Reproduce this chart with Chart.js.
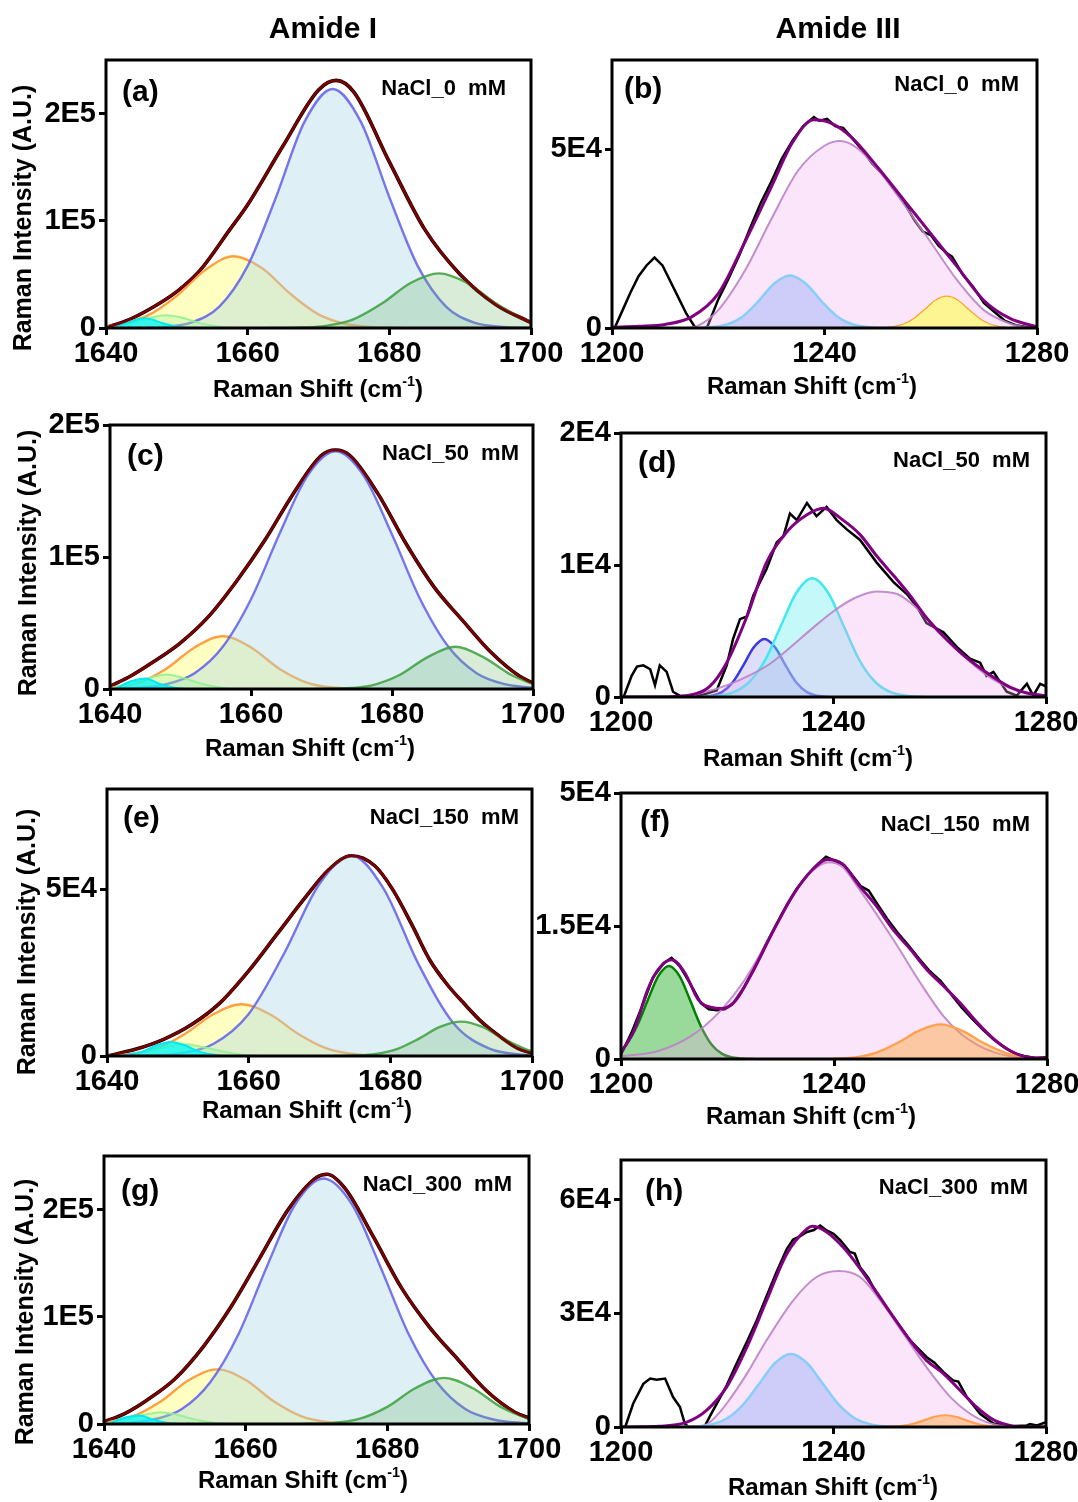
<!DOCTYPE html>
<html>
<head>
<meta charset="utf-8">
<script src="https://cdn.jsdelivr.net/npm/chart.js@4.4.1/dist/chart.umd.min.js"></script>
<style>
  body { margin: 0; background: #fff; width: 1078px; height: 1502px; position: relative; overflow: hidden;
         font-family: "Liberation Sans", Arial, sans-serif; font-weight: bold; color: #000; }
  .box { position: absolute; }
  .t { position: absolute; white-space: nowrap; line-height: 1; z-index: 5; }
  .c { transform: translate(-50%, -50%); }
  .r { transform: translate(-100%, -50%); }
  .l { transform: translate(0, -50%); }
  .v { transform: translate(-50%, -50%) rotate(-90deg); }
  sup { font-size: 60%; line-height: 0; vertical-align: 0.75em; }
</style>
</head>
<body>
<script>
// ---- axis ticks ----
const amideITicks = [1640, 1660, 1680, 1700];
const amideIIITicks = [1200, 1240, 1280];

const yTicksA = [0, 1, 2], yLabelsA = ['0', '1E5', '2E5'];
const yTicksB = [0, 5], yLabelsB = ['0', '5E4'];
const yTicksC = [0, 1, 2], yLabelsC = ['0', '1E5', '2E5'];
const yTicksD = [0, 1, 2], yLabelsD = ['0', '1E4', '2E4'];
const yTicksE = [0, 5], yLabelsE = ['0', '5E4'];
const yTicksF = [0, 1.5, 3], yLabelsF = ['0', '1.5E4', '5E4'];
const yTicksG = [0, 1, 2], yLabelsG = ['0', '1E5', '2E5'];
const yTicksH = [0, 3, 6], yLabelsH = ['0', '3E4', '6E4'];

// ---- (a) NaCl 0 mM, amide I (units of 1E5) ----
const aFit = [[1640,.005],[1643,.07],[1646,.17],[1650,.34],[1653.3,.54],[1657.5,.92],[1660,1.15],[1665,1.7],[1670,2.22],[1672.5,2.31],[1675,2.2],[1680,1.55],[1685,.92],[1690,.5],[1695,.22],[1700,.05]];
const aBlue = [[1640,0],[1644,0],[1648,.01],[1652,.05],[1656,.2],[1660,.58],[1664,1.22],[1668,1.92],[1672,2.23],[1676,1.92],[1680,1.22],[1684,.58],[1688,.2],[1692,.05],[1696,.01],[1700,0]];
const aOrange = [[1640,.016],[1642,.035],[1646,.12],[1650,.3],[1654,.54],[1658,.67],[1662,.56],[1666,.32],[1670,.127],[1674,.035],[1678,.007],[1682,0]];
const aGreen = [[1663,0],[1667,.003],[1671,.02],[1675,.083],[1679,.23],[1683,.42],[1687,.51],[1691,.42],[1695,.23],[1699,.083],[1700,.06]];
const aCyan = [[1641,.01],[1643,.05],[1645.5,.09],[1648,.045],[1650,.012],[1652,0]];
const aLime = [[1641,.012],[1644,.05],[1646.5,.1],[1648.5,.12],[1650.5,.1],[1653,.05],[1656,.012],[1659,0]];

// ---- (b) NaCl 0 mM, amide III (units of 1E4) ----
const bRaw = [[1200.5,0],[1202,.5],[1203.5,1.0],[1205,1.45],[1206.5,1.75],[1208,1.97],[1209.5,1.75],[1211,1.3],[1212.5,.85],[1214,.4],[1215.5,.05],[1216.5,-.1],[1218,.05],[1220,.8],[1222,1.4],[1224,2.05],[1226,2.8],[1228,3.5],[1230,4.1],[1232,4.75],[1234,5.25],[1236,5.65],[1238,5.9],[1239,5.8],[1240.5,5.85],[1242,5.65],[1243.5,5.6],[1245,5.35],[1247,5.0],[1249,4.6],[1251,4.3],[1253,3.9],[1255,3.5],[1257,3.0],[1258.5,2.7],[1260,2.6],[1261.5,2.3],[1263,2.1],[1264,2.0],[1266,1.5],[1268,1.15],[1270,.7],[1272,.45],[1274,.2],[1276,.08],[1278,.03],[1280,.02]];
const bFit = [[1200,.02],[1205,.05],[1210,.1],[1215,.31],[1220,.96],[1225,2.4],[1230,3.95],[1234,5.2],[1238,5.83],[1241,5.75],[1245,5.35],[1250,4.5],[1255,3.57],[1260,2.64],[1265,1.71],[1270,.77],[1275,.26],[1280,.03]];
const bPink = [[1214,0],[1216,.05],[1220,.5],[1225,1.6],[1230,3.05],[1235,4.4],[1240,5.1],[1243,5.23],[1246,5.05],[1250,4.45],[1255,3.45],[1260,2.4],[1265,1.33],[1270,.5],[1275,.12],[1278,.02],[1280,0]];
const bSky = [[1216,0],[1217.5,.01],[1221.5,.09],[1224.5,.31],[1227.5,.74],[1230.5,1.24],[1233.5,1.47],[1236.5,1.24],[1239.5,.74],[1242.5,.31],[1245.5,.09],[1249.5,.01],[1252,0]];
const bYellow = [[1250,0],[1252,.02],[1255,.12],[1257,.29],[1259,.54],[1261,.79],[1263,.89],[1265,.79],[1267,.54],[1269,.29],[1271,.12],[1274,.02],[1276,0]];

// ---- (c) NaCl 50 mM, amide I (1E5) ----
const cFit = [[1640,.02],[1643,.1],[1646,.2],[1650,.35],[1654,.55],[1658,.82],[1662,1.13],[1666,1.48],[1670,1.77],[1672,1.81],[1674,1.77],[1678,1.48],[1682,1.1],[1686,.77],[1690,.52],[1694,.28],[1698,.1],[1700,.045]];
const cBlue = [[1640,.002],[1644,.009],[1648,.037],[1652,.12],[1656,.32],[1660,.68],[1664,1.17],[1668,1.615],[1672,1.8],[1676,1.615],[1680,1.17],[1684,.68],[1688,.32],[1692,.12],[1696,.037],[1700,.009]];
const cOrange = [[1640,.009],[1644,.047],[1648,.154],[1652,.315],[1656,.40],[1660,.315],[1664,.154],[1668,.047],[1672,.009],[1676,0]];
const cGreen = [[1669,0],[1673,.004],[1677,.026],[1681,.104],[1685,.24],[1689,.32],[1693,.24],[1697,.104],[1700,.038]];
const cCyan = [[1641,.01],[1643,.06],[1645,.08],[1647,.04],[1649,.01],[1651,0]];
const cLime = [[1640,.008],[1643,.04],[1646,.09],[1648,.11],[1650,.09],[1653,.04],[1656,.008],[1658,0]];

// ---- (d) NaCl 50 mM, amide III (1E4) ----
const dRaw = [[1200.5,0],[1202,.16],[1203,.23],[1204.2,.24],[1205.5,.21],[1206.4,.09],[1207.3,.24],[1208.6,.19],[1209.8,.04],[1211,.01],[1214,0],[1218,.05],[1219.9,.24],[1221.1,.44],[1222.4,.59],[1223.7,.61],[1224.9,.77],[1227.4,.97],[1229.3,1.17],[1230.6,1.22],[1231.8,1.39],[1233.1,1.34],[1235,1.47],[1236.8,1.37],[1238.7,1.44],[1240.6,1.34],[1242.5,1.27],[1245,1.19],[1248.1,1.02],[1251.3,.87],[1253.8,.78],[1255.6,.69],[1257.5,.56],[1260.7,.49],[1263.2,.38],[1265.7,.29],[1267.6,.26],[1268.8,.16],[1270.1,.19],[1272.6,.04],[1274.5,.01],[1276.4,.1],[1277.6,.01],[1278.9,.1],[1280,.08]];
const dFit = [[1200,0],[1206.7,0],[1213.6,.02],[1216.7,.08],[1219.9,.26],[1223.7,.61],[1227.4,1.02],[1231.2,1.25],[1235,1.38],[1238.1,1.43],[1241.8,1.34],[1245,1.23],[1248.1,1.07],[1251.3,.92],[1254.4,.77],[1257.5,.6],[1260.7,.46],[1263.8,.34],[1266.9,.24],[1270.1,.15],[1273.2,.075],[1276.4,.03],[1280,.01]];
const dBlue = [[1215,0],[1217,.009],[1219,.037],[1221,.11],[1223,.238],[1225,.377],[1227,.44],[1229,.377],[1231,.238],[1233,.11],[1235,.037],[1237,.009],[1239,0]];
const dCyan = [[1215,0],[1218,.008],[1221,.033],[1224,.108],[1227,.27],[1230,.53],[1233,.79],[1236,.90],[1239,.79],[1242,.53],[1245,.27],[1248,.108],[1251,.033],[1254,.008],[1257,0]];
const dPink = [[1208,0],[1212,.01],[1216,.04],[1220,.09],[1224,.16],[1228,.25],[1232,.38],[1236,.52],[1240,.65],[1244,.75],[1248,.80],[1252,.78],[1256,.66],[1260,.48],[1264,.33],[1268,.19],[1272,.09],[1276,.035],[1280,.01]];

// ---- (e) NaCl 150 mM, amide I (1E4) ----
const eFit = [[1640,0],[1644,.2],[1648,.5],[1652,.95],[1656,1.6],[1660,2.55],[1664,3.65],[1668,4.75],[1671.3,5.58],[1674.5,6.0],[1677.8,5.7],[1680.3,5.0],[1683,3.95],[1685.5,2.9],[1688,2.15],[1690.5,1.55],[1693,1.0],[1695.5,.58],[1698,.23],[1700,.08]];
const eBlue = [[1645,0],[1650,.07],[1655,.36],[1660,1.26],[1665,3.07],[1670,5.16],[1674.5,6.0],[1679,5.03],[1684,2.74],[1689,.96],[1694,.22],[1699,.03],[1700,.02]];
const eOrange = [[1640,.013],[1643,.051],[1647,.228],[1651,.66],[1655,1.25],[1659,1.55],[1663,1.25],[1667,.66],[1671,.228],[1675,.051],[1679,.008]];
const eGreen = [[1672,0],[1675,.014],[1678,.065],[1681,.216],[1684,.515],[1687,.87],[1690,1.03],[1693,.87],[1696,.515],[1699,.216],[1700,.15]];
const eCyan = [[1642,.01],[1645,.13],[1647,.32],[1649,.42],[1651,.32],[1653,.13],[1656,.01]];
const eLime = [[1643,.04],[1646,.152],[1649,.29],[1651,.35],[1653,.29],[1656,.152],[1659,.04],[1662,.005]];

// ---- (f) NaCl 150 mM, amide III (1E4) ----
const fRaw = [[1200,.05],[1202,.3],[1204,.6],[1206,.92],[1208,1.08],[1209.5,1.14],[1211,1.05],[1213,.85],[1215,.63],[1216.5,.56],[1218,.55],[1219.5,.56],[1221,.62],[1223,.8],[1225,1.02],[1227,1.27],[1229,1.5],[1231,1.72],[1233,1.92],[1235,2.07],[1237,2.2],[1238.5,2.28],[1240,2.24],[1242,2.18],[1244,2.03],[1245,1.95],[1246.5,1.9],[1248,1.76],[1250,1.58],[1252,1.42],[1254,1.28],[1256,1.13],[1258,.99],[1260,.88],[1261.5,.77],[1262.5,.69],[1264,.58],[1266,.45],[1268,.33],[1270,.22],[1272,.13],[1274,.06],[1276,.03],[1278,.01],[1280,.02]];
const fFit = [[1200,.07],[1202.5,.33],[1205,.78],[1207,1.01],[1209.5,1.12],[1212,.97],[1214.5,.67],[1217,.58],[1219,.57],[1221.4,.65],[1224.6,.97],[1228.4,1.42],[1232.2,1.84],[1236,2.14],[1238.8,2.25],[1241.6,2.2],[1244.8,1.95],[1247.9,1.73],[1251.1,1.46],[1254.3,1.24],[1257.4,1.01],[1260.6,.82],[1263.7,.63],[1266.9,.41],[1270.1,.22],[1273.2,.09],[1276.4,.02],[1280,.01]];
const fGreen = [[1200,.10],[1201,.164],[1203,.37],[1205,.66],[1207,.935],[1209,1.05],[1211,.935],[1213,.66],[1215,.37],[1217,.164],[1219,.058],[1221,.016],[1223,.003],[1225,0]];
const fPink = [[1200,.03],[1207,.09],[1213.2,.26],[1218.3,.52],[1223.3,.9],[1228.4,1.42],[1233.4,1.95],[1236.5,2.15],[1239,2.22],[1241.5,2.17],[1244.8,1.91],[1251.1,1.35],[1256.2,.86],[1260.6,.48],[1263.7,.29],[1266.9,.16],[1270.1,.075],[1273.2,.03],[1277,.005],[1280,0]];
const fOrange = [[1240,.004],[1244,.019],[1248,.072],[1252,.184],[1256,.32],[1260,.39],[1264,.32],[1268,.184],[1272,.072],[1276,.019],[1280,.004]];

// ---- (g) NaCl 300 mM, amide I (1E5) ----
const gFit = [[1640,.02],[1643,.1],[1646,.22],[1650,.42],[1654,.72],[1658,1.1],[1662,1.55],[1666,2.0],[1670,2.3],[1671.5,2.33],[1674,2.2],[1678,1.75],[1682,1.27],[1686,.9],[1690,.6],[1694,.31],[1698,.11],[1700,.055]];
const gBlue = [[1640,.003],[1643,.01],[1647,.042],[1651,.14],[1655,.39],[1659,.84],[1663,1.47],[1667,2.05],[1671,2.29],[1675,2.05],[1679,1.47],[1683,.84],[1687,.39],[1691,.14],[1695,.042],[1699,.01],[1700,.007]];
const gOrange = [[1640,.014],[1644,.069],[1648,.21],[1652,.41],[1656,.51],[1660,.41],[1664,.21],[1668,.069],[1672,.014],[1676,.002]];
const gGreen = [[1668,.001],[1672,.008],[1676,.047],[1680,.16],[1684,.336],[1688,.43],[1692,.336],[1696,.16],[1700,.047]];
const gCyan = [[1641,.01],[1643,.06],[1645,.08],[1647,.04],[1649,.01],[1651,0]];
const gLime = [[1640,.008],[1643,.04],[1646,.09],[1648,.11],[1650,.09],[1653,.04],[1656,.008],[1658,0]];

// ---- (h) NaCl 300 mM, amide III (1E4) ----
const hRaw = [[1200.8,0],[1202.3,.62],[1204.2,1.14],[1205.5,1.28],[1206.7,1.25],[1208.3,1.28],[1209.8,.79],[1211.1,.53],[1212,.09],[1213.5,-.1],[1215.5,-.05],[1216.8,.3],[1219.9,1.1],[1221.5,1.6],[1223.7,2.25],[1225.5,2.8],[1227.4,3.45],[1229.3,4.1],[1231.2,4.7],[1232.4,4.95],[1233.5,5.02],[1235,5.15],[1236.3,5.2],[1237.5,5.32],[1238.7,5.19],[1240,5.1],[1241.3,4.93],[1243.1,4.62],[1244,4.58],[1245,4.22],[1246.5,3.95],[1248.1,3.52],[1249.5,3.25],[1251.3,2.9],[1254.4,2.29],[1257.5,1.85],[1259,1.7],[1260.7,1.45],[1262.5,1.23],[1263.5,1.2],[1265.1,.79],[1267.6,.35],[1270.1,.09],[1273.2,.02],[1276.4,.04],[1277,.08],[1278.3,.04],[1280,.13]];
const hFit = [[1200,0],[1207.3,.02],[1212.4,.13],[1216.1,.44],[1219.9,1.06],[1223.7,2.11],[1227.4,3.34],[1231.2,4.57],[1235,5.23],[1236,5.3],[1238.7,5.15],[1241.8,4.75],[1245,4.18],[1248.1,3.56],[1251.3,2.9],[1254.4,2.29],[1257.5,1.76],[1260.7,1.41],[1263.8,.97],[1266.9,.53],[1270.1,.19],[1273.2,.04],[1276.4,0],[1280,0]];
const hPink = [[1213,0],[1216,.06],[1218,.3],[1220,.64],[1223.7,1.41],[1227.4,2.29],[1232.4,3.34],[1236.8,3.96],[1241,4.12],[1245,3.96],[1248.8,3.34],[1253.2,2.46],[1257.5,1.58],[1262,.79],[1265.7,.35],[1268.8,.13],[1272,.03],[1275,0]];
const hSky = [[1211,0],[1214,.017],[1217,.07],[1220,.23],[1223,.59],[1226,1.14],[1229,1.69],[1232,1.93],[1235,1.69],[1238,1.14],[1241,.59],[1244,.23],[1247,.07],[1250,.017],[1253,0]];
const hOrange = [[1249,0],[1251,.009],[1253,.031],[1255,.085],[1257,.175],[1259,.27],[1261,.31],[1263,.27],[1265,.175],[1267,.085],[1269,.031],[1271,.009],[1273,0]];

// ---- line / fill styles ----
const S = {
  raw:    { line: '#000000', width: 3.6 },
  rawIII: { line: '#000000', width: 2.5, straight: true },
  fitI:   { line: '#800000', width: 2.5 },
  fitIII: { line: '#800080', width: 3 },
  blue:   { line: 'rgba(95,95,235,0.85)', width: 2.4, fill: 'rgba(173,216,230,0.4)' },
  orange: { line: '#ffa040', width: 2.4, fill: 'rgba(255,255,100,0.4)' },
  green:  { line: 'rgba(60,160,60,0.85)', width: 2.4, fill: 'rgba(100,180,100,0.25)' },
  cyan:   { line: '#00e8f0', width: 2, fill: 'rgba(0,245,250,0.75)' },
  lime:   { line: 'rgba(150,240,150,0.9)', width: 2, fill: 'rgba(160,240,160,0.35)' },
  pink:   { line: 'rgba(190,130,200,0.9)', width: 2, fill: 'rgba(240,170,240,0.3)' },
  sky:    { line: '#87cefa', width: 2.5, fill: 'rgba(140,170,250,0.4)' },
  yellow: { line: '#ffa030', width: 1.2, fill: 'rgba(255,255,90,0.65)' },
  dblue:  { line: '#3a3ae0', width: 2.5, fill: 'rgba(90,90,230,0.2)' },
  dcyan:  { line: '#40e8f0', width: 2.5, fill: 'rgba(110,240,240,0.4)' },
  orangeIII: { line: '#ffa050', width: 2.2, fill: 'rgba(255,165,60,0.45)' },
  dgreen: { line: '#008000', width: 2.5, fill: 'rgba(0,160,0,0.4)' }
};

const FONT = '"Liberation Sans", Arial, sans-serif';

// series lists are bottom -> top
const panels = [
  { frame: [106, 60, 531, 328], xMin: 1640, xMax: 1700, xt: amideITicks, yMax: 2.5, yt: yTicksA, yl: yLabelsA,
    series: [[aFit, S.raw], [aOrange, S.orange], [aBlue, S.blue], [aGreen, S.green], [aLime, S.lime], [aCyan, S.cyan], [aFit, S.fitI]] },
  { frame: [612, 60, 1037, 328], xMin: 1200, xMax: 1280, xt: amideIIITicks, yMax: 7.5, yt: yTicksB, yl: yLabelsB,
    series: [[bRaw, S.rawIII], [bPink, S.pink], [bSky, S.sky], [bYellow, S.yellow], [bFit, S.fitIII]] },
  { frame: [110, 425, 533, 689], xMin: 1640, xMax: 1700, xt: amideITicks, yMax: 2.0, yt: yTicksC, yl: yLabelsC,
    series: [[cFit, S.raw], [cOrange, S.orange], [cBlue, S.blue], [cGreen, S.green], [cLime, S.lime], [cCyan, S.cyan], [cFit, S.fitI]] },
  { frame: [621, 433, 1046, 697], xMin: 1200, xMax: 1280, xt: amideIIITicks, yMax: 2.0, yt: yTicksD, yl: yLabelsD,
    series: [[dRaw, S.rawIII], [dBlue, S.dblue], [dCyan, S.dcyan], [dPink, S.pink], [dFit, S.fitIII]] },
  { frame: [107, 789, 532, 1056], xMin: 1640, xMax: 1700, xt: amideITicks, yMax: 8, yt: yTicksE, yl: yLabelsE,
    series: [[eFit, S.raw], [eOrange, S.orange], [eBlue, S.blue], [eGreen, S.green], [eLime, S.lime], [eCyan, S.cyan], [eFit, S.fitI]] },
  { frame: [621, 793, 1047, 1059], xMin: 1200, xMax: 1280, xt: amideIIITicks, yMax: 3, yt: yTicksF, yl: yLabelsF,
    series: [[fRaw, S.rawIII], [fGreen, S.dgreen], [fPink, S.pink], [fOrange, S.orangeIII], [fFit, S.fitIII]] },
  { frame: [104, 1156, 529, 1424], xMin: 1640, xMax: 1700, xt: amideITicks, yMax: 2.5, yt: yTicksG, yl: yLabelsG,
    series: [[gFit, S.raw], [gOrange, S.orange], [gBlue, S.blue], [gGreen, S.green], [gLime, S.lime], [gCyan, S.cyan], [gFit, S.fitI]] },
  { frame: [621, 1160, 1046, 1427], xMin: 1200, xMax: 1280, xt: amideIIITicks, yMax: 7.05, yt: yTicksH, yl: yLabelsH,
    series: [[hRaw, S.rawIII], [hPink, S.pink], [hSky, S.sky], [hOrange, S.orangeIII], [hFit, S.fitIII]] }
];

const framePlugin = {
  id: 'frame',
  afterDatasetsDraw(chart) {
    const { ctx, chartArea: a } = chart;
    ctx.save();
    ctx.strokeStyle = '#000';
    ctx.lineWidth = 3;
    ctx.strokeRect(a.left, a.top, a.right - a.left, a.bottom - a.top);
    ctx.restore();
  }
};

const YW = 100, XH = 50, PT = 25, PR = 45;

function axis(min, max, vals, labels, horizontal) {
  return {
    type: 'linear', min, max,
    afterBuildTicks: s => { s.ticks = vals.map(v => ({ value: v })); },
    afterFit: s => { if (horizontal) s.height = XH; else s.width = YW; },
    ticks: {
      color: '#000', autoSkip: false, maxRotation: 0, padding: horizontal ? 2 : 3,
      font: { family: FONT, size: 29, weight: 'bold' },
      callback: (v, i) => labels[i]
    },
    grid: { drawOnChartArea: false, drawTicks: true, tickLength: 7, tickWidth: 3, tickColor: '#000' },
    border: { display: false }
  };
}

panels.forEach(p => {
  const [L, T, R, B] = p.frame;
  const box = document.createElement('div');
  box.className = 'box';
  box.style.left = (L - YW) + 'px';
  box.style.top = (T - PT) + 'px';
  const cv = document.createElement('canvas');
  cv.width = R - L + YW + PR;
  cv.height = B - T + PT + XH;
  box.appendChild(cv);
  document.body.appendChild(box);

  const n = p.series.length;
  new Chart(cv, {
    type: 'line',
    data: {
      datasets: p.series.map(([pts, st], i) => ({
        data: pts.map(q => ({ x: q[0], y: q[1] })),
        borderColor: st.line,
        borderWidth: st.width,
        backgroundColor: st.fill || 'transparent',
        fill: st.fill ? 'origin' : false,
        pointRadius: 0,
        cubicInterpolationMode: st.straight ? 'default' : 'monotone',
        tension: 0,
        order: n - i
      }))
    },
    options: {
      responsive: false,
      animation: false,
      devicePixelRatio: 1,
      events: [],
      layout: { padding: { top: PT, right: PR, left: 0, bottom: 0 } },
      plugins: { legend: { display: false }, tooltip: { enabled: false } },
      scales: {
        x: axis(p.xMin, p.xMax, p.xt, p.xt.map(String), true),
        y: axis(0, p.yMax, p.yt, p.yl, false)
      }
    },
    plugins: [framePlugin]
  });
});

// ---- text ----
function txt(html, x, y, size, cls) {
  const d = document.createElement('div');
  d.className = 't ' + cls;
  d.style.left = x + 'px';
  d.style.top = y + 'px';
  d.style.fontSize = size + 'px';
  d.innerHTML = html;
  document.body.appendChild(d);
}

txt('Amide I', 323, 28, 30, 'c');
txt('Amide III', 838, 28, 30, 'c');

const letters = [['(a)', 122, 91], ['(b)', 624, 88], ['(c)', 127, 455], ['(d)', 638, 462],
                 ['(e)', 123, 817], ['(f)', 640, 821], ['(g)', 121, 1190], ['(h)', 645, 1190]];
letters.forEach(([s, x, y]) => txt(s, x, y, 30, 'l'));

const salts = [['NaCl_0 mM', 506, 88], ['NaCl_0 mM', 1019, 84], ['NaCl_50 mM', 519, 453], ['NaCl_50 mM', 1030, 460],
               ['NaCl_150 mM', 519, 817], ['NaCl_150 mM', 1030, 824], ['NaCl_300 mM', 512, 1184], ['NaCl_300 mM', 1028, 1187]];
salts.forEach(([s, x, y]) => txt(s.replace(' ', '&nbsp; '), x, y, 22, 'r'));

const xTitle = 'Raman Shift (cm<sup>-1</sup>)';
[[318, 389], [812, 386], [310, 748], [808, 758], [307, 1110], [811, 1116], [303, 1480], [833, 1487]]
  .forEach(([x, y]) => txt(xTitle, x, y, 24, 'c'));

[[22, 218], [27, 563], [26, 942], [24, 1312]]
  .forEach(([x, y]) => txt('Raman Intensity (A.U.)', x, y, 25, 'v'));
</script>
</body>
</html>
